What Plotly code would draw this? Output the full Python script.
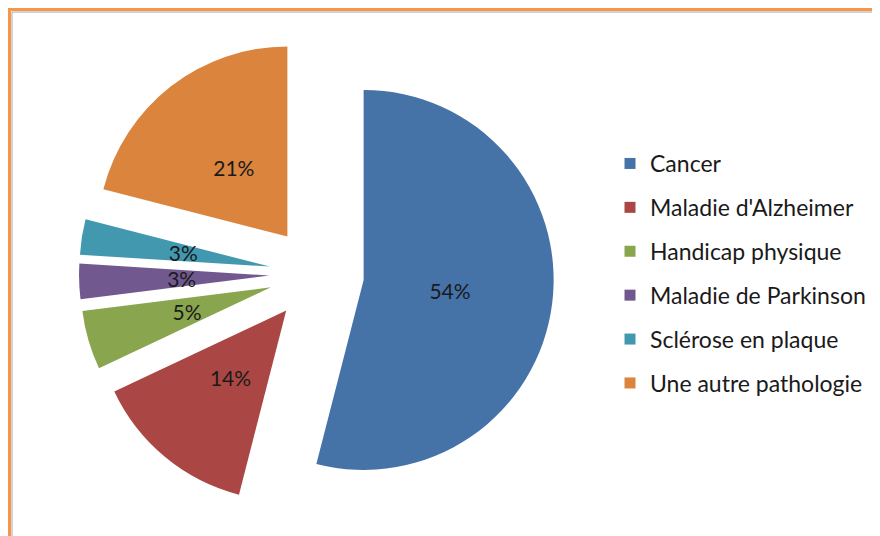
import math
import plotly.graph_objects as go

# Pathologies (share of respondents, %)
labels = ['Cancer', "Maladie d'Alzheimer", 'Handicap physique',
          'Maladie de Parkinson', 'Sclérose en plaque', 'Une autre pathologie']
values = [54, 14, 5, 3, 3, 21]
colors = ['#4572A7', '#AA4643', '#89A54E', '#71588F', '#4198AF', '#DB843D']

font_family = 'Lato, "Open Sans", sans-serif'

# the page has an 8px body margin, so the figure is 8px smaller each way
W, H = 872, 528
R = 190          # pie radius in px
PULL = 0.25      # every slice is exploded
cx, cy = 308.5, 266   # pie centre, px from top-left of the figure
LABEL_K = 0.46   # labels sit at ~half the radius, like Excel


def domain_for(radius, pull):
    half = radius * (1 + pull)
    return dict(x=[(cx - half) / W, (cx + half) / W],
                y=[(H - cy - half) / H, (H - cy + half) / H])


fig = go.Figure()

# Exploded pie, starting at 12 o'clock, clockwise
fig.add_trace(go.Pie(
    labels=labels, values=values, sort=False,
    direction='clockwise', rotation=0,
    pull=[PULL] * len(values),
    marker=dict(colors=colors),
    textinfo='none',
    showlegend=False,
    domain=domain_for(R, PULL),
    hoverinfo='label+percent',
))

# Transparent copies of the pie, sized so plotly's inside text lands
# at about half the radius of the real slice (one copy per slice)
total = sum(values)
for i, v in enumerate(values):
    s = math.sin(math.pi * v / total)
    r_ins = min(s / (1 + s), 0.5)
    r2 = LABEL_K * R / (1 - r_ins)
    pull2 = PULL * R / r2
    fig.add_trace(go.Pie(
        labels=labels, values=values, sort=False,
        direction='clockwise', rotation=0,
        pull=[pull2] * len(values),
        marker=dict(colors=['rgba(0,0,0,0)'] * len(values)),
        texttemplate=['%{percent:.0%}' if j == i else '' for j in range(len(values))],
        textposition='inside',
        insidetextorientation='horizontal',
        textfont=dict(family=font_family, size=21, color='#1a1a1a'),
        showlegend=False,
        hoverinfo='skip',
        domain=domain_for(r2, pull2),
    ))

# Legend entries (one group each so the spacing matches the original)
for lab, col in zip(labels, colors):
    fig.add_trace(go.Scatter(
        x=[None], y=[None], mode='markers', name=lab, legendgroup=lab,
        marker=dict(symbol='square', size=11, color=col),
    ))

fig.update_layout(
    width=W, height=H,
    margin=dict(l=0, r=0, t=0, b=0),
    paper_bgcolor='white',
    plot_bgcolor='white',
    font=dict(family=font_family, color='#1a1a1a'),
    uniformtext=dict(minsize=21, mode='show'),
    xaxis=dict(visible=False),
    yaxis=dict(visible=False),
    legend=dict(
        x=602 / W, xanchor='left',
        y=(H - 134) / H, yanchor='top',
        font=dict(size=23, color='#1a1a1a'),
        tracegroupgap=11,
        bgcolor='rgba(0,0,0,0)',
    ),
    shapes=[
        # orange chart frame (cut at right and bottom like the original)
        dict(type='rect', xref='paper', yref='paper',
             x0=1.5 / W, x1=1.05, y0=-0.05, y1=1 - 1.5 / H,
             line=dict(color='#F79646', width=3)),
        dict(type='rect', xref='paper', yref='paper',
             x0=4 / W, x1=1.05, y0=-0.05, y1=1 - 4 / H,
             line=dict(color='#A0A8B0', width=1)),
    ],
)

fig.write_html('out.html')
